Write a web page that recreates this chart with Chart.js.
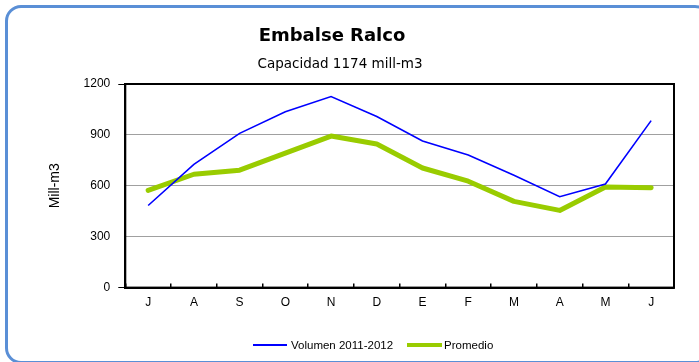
<!DOCTYPE html>
<html>
<head>
<meta charset="utf-8">
<script src="https://cdn.jsdelivr.net/npm/chart.js@4/dist/chart.umd.min.js"></script>
<style>
  html, body { margin: 0; padding: 0; background: #fff; }
  #wrap { position: relative; width: 699px; height: 362px; overflow: hidden; }
  #frame {
    position: absolute; left: 5px; top: 5px; width: 700px; height: 353px;
    border: 3px solid #5a8fd6; border-radius: 16px; box-sizing: content-box;
  }
  #chart { position: absolute; left: 0; top: 0; }
  .title {
    position: absolute; left: 232px; top: 26px; width: 200px; text-align: center;
    font: bold 18px/18px "DejaVu Sans", sans-serif; color: #000; white-space: nowrap;
  }
  .subtitle {
    position: absolute; left: 240px; top: 56.6px; width: 200px; text-align: center;
    font: 13.5px/13.5px "DejaVu Sans", sans-serif; color: #000; white-space: nowrap;
  }
  .legend {
    position: absolute; left: 253px; top: 338px; display: flex; align-items: center;
    font: 11.5px/14px "Liberation Sans", Arial, sans-serif; color: #000;
  }
  .legend .sw { display: inline-block; width: 34px; margin-right: 4px; }
  .legend .item { display: flex; align-items: center; margin-right: 14px; }
</style>
</head>
<body>
<div id="wrap">
  <div id="frame"></div>
  <canvas id="chart" width="699" height="362"></canvas>
  <div class="title">Embalse Ralco</div>
  <div class="subtitle">Capacidad 1174 mill-m3</div>
  <div class="legend">
    <span class="item"><span class="sw" style="height:2px;background:#0000ff"></span>Volumen 2011-2012</span>
    <span class="item"><span class="sw" style="height:4px;background:#99cc00;width:35px;margin-right:2px"></span>Promedio</span>
  </div>
</div>
<script>
// Months from July to June
const months = ["J", "A", "S", "O", "N", "D", "E", "F", "M", "A", "M", "J"];
// Stored volume, season 2011-2012 (mill-m3)
const volumen = [484, 726, 909, 1037, 1126, 1008, 864, 781, 662, 536, 611, 984];
// Historical average (mill-m3)
const promedio = [573, 668, 692, 793, 893, 846, 705, 627, 508, 455, 593, 589];
const yTicks = [0, 300, 600, 900, 1200];

// Black box around the plot area
const plotFrame = {
  id: "plotFrame",
  beforeDatasetsDraw(chart) {
    const a = chart.chartArea;
    const ctx = chart.ctx;
    ctx.save();
    ctx.strokeStyle = "#000";
    ctx.lineWidth = 2;
    ctx.strokeRect(a.left, a.top, a.right - a.left, a.bottom - a.top);
    ctx.restore();
  }
};

const tickFont = { family: "'Liberation Sans', Arial, sans-serif", size: 12 };

new Chart(document.getElementById("chart"), {
  type: "line",
  data: {
    labels: months,
    datasets: [
      {
        label: "Volumen 2011-2012",
        data: volumen,
        borderColor: "#0000ff",
        borderWidth: 1.6,
        pointRadius: 0,
        tension: 0,
        order: 1
      },
      {
        label: "Promedio",
        data: promedio,
        borderColor: "#99cc00",
        borderWidth: 5,
        borderCapStyle: "round",
        borderJoinStyle: "round",
        pointRadius: 0,
        tension: 0,
        order: 2
      }
    ]
  },
  options: {
    responsive: false,
    animation: false,
    devicePixelRatio: 1,
    layout: { padding: { left: 40, right: 25, top: 84, bottom: 40 } },
    plugins: {
      legend: { display: false },
      tooltip: { enabled: false }
    },
    scales: {
      x: {
        offset: true,
        grid: {
          offset: true,
          drawOnChartArea: false,
          tickLength: -4,
          tickColor: "#000",
          lineWidth: 1.5
        },
        border: { color: "#000", width: 2 },
        ticks: { font: tickFont, color: "#000", padding: 12, maxRotation: 0 }
      },
      y: {
        min: 0,
        max: 1200,
        afterBuildTicks(scale) {
          scale.ticks = yTicks.map(v => ({ value: v }));
        },
        grid: {
          color: "#a0a0a0",
          lineWidth: 1,
          tickLength: 7,
          tickColor: c => (c.tick && (c.tick.value === 0 || c.tick.value === 1200)) ? "#000" : "rgba(0,0,0,0)"
        },
        border: { color: "#000", width: 2 },
        ticks: { font: tickFont, color: "#000", padding: 8, callback: v => String(v) },
        title: {
          display: true,
          text: "Mill-m3",
          font: { family: "'Liberation Sans', Arial, sans-serif", size: 14 },
          color: "#000",
          padding: { top: 7.2, bottom: 11.6 }
        }
      }
    }
  },
  plugins: [plotFrame]
});
</script>
</body>
</html>
